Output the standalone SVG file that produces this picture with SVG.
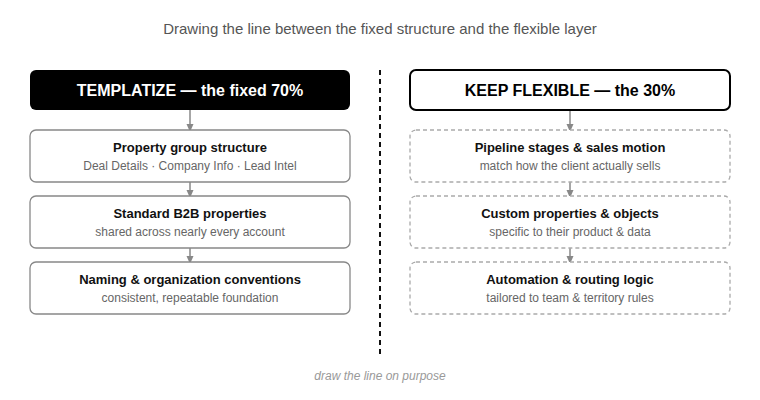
<svg xmlns="http://www.w3.org/2000/svg" width="760" height="400" viewBox="0 0 760 400">
<style>
text{font-family:"Liberation Sans",Arial,sans-serif;text-anchor:middle}
.t{font-size:13px;font-weight:bold;fill:#111}
.s{font-size:12px;fill:#666}
.h{font-size:16px;font-weight:bold}
.box{fill:#fff;stroke:#888;stroke-width:1.3}
.dbox{fill:#fff;stroke:#aaa;stroke-width:1.3;stroke-dasharray:4 3}
.c{stroke:#888;stroke-width:1.5;fill:none}
</style>
<defs><marker id="a" markerWidth="8" markerHeight="8" refX="4" refY="4" orient="auto" markerUnits="userSpaceOnUse"><path d="M0,0.5 L8,4 L0,7.5 Z" fill="#888"/></marker></defs>
<rect width="760" height="400" fill="#fff"/>
<text x="380" y="34" style="font-size:15px;fill:#555">Drawing the line between the fixed structure and the flexible layer</text>
<g id="connectors">
<line class="c" x1="190" y1="110" x2="190" y2="128" marker-end="url(#a)"/>
<line class="c" x1="190" y1="182" x2="190" y2="194" marker-end="url(#a)"/>
<line class="c" x1="190" y1="248" x2="190" y2="260" marker-end="url(#a)"/>
<line class="c" x1="570" y1="110" x2="570" y2="128" marker-end="url(#a)"/>
<line class="c" x1="570" y1="182" x2="570" y2="194" marker-end="url(#a)"/>
<line class="c" x1="570" y1="248" x2="570" y2="260" marker-end="url(#a)"/>
<line x1="380" y1="70" x2="380" y2="358" stroke="#111" stroke-width="2" stroke-dasharray="5 4"/>
</g>
<g id="h-left"><rect x="30" y="70" width="320" height="40" rx="6" fill="#000"/><text class="h" x="190" y="96" fill="#fff">TEMPLATIZE — the fixed 70%</text></g>
<g id="l1"><rect class="box" x="30" y="130" width="320" height="52" rx="6"/><text class="t" x="190" y="152">Property group structure</text><text class="s" x="190" y="170">Deal Details · Company Info · Lead Intel</text></g>
<g id="l2"><rect class="box" x="30" y="196" width="320" height="52" rx="6"/><text class="t" x="190" y="218">Standard B2B properties</text><text class="s" x="190" y="236">shared across nearly every account</text></g>
<g id="l3"><rect class="box" x="30" y="262" width="320" height="52" rx="6"/><text class="t" x="190" y="284">Naming &amp; organization conventions</text><text class="s" x="190" y="302">consistent, repeatable foundation</text></g>
<g id="h-right"><rect x="410" y="70" width="320" height="40" rx="6" fill="#fff" stroke="#000" stroke-width="2"/><text class="h" x="570" y="96" fill="#000">KEEP FLEXIBLE — the 30%</text></g>
<g id="r1"><rect class="dbox" x="410" y="130" width="320" height="52" rx="6"/><text class="t" x="570" y="152">Pipeline stages &amp; sales motion</text><text class="s" x="570" y="170">match how the client actually sells</text></g>
<g id="r2"><rect class="dbox" x="410" y="196" width="320" height="52" rx="6"/><text class="t" x="570" y="218">Custom properties &amp; objects</text><text class="s" x="570" y="236">specific to their product &amp; data</text></g>
<g id="r3"><rect class="dbox" x="410" y="262" width="320" height="52" rx="6"/><text class="t" x="570" y="284">Automation &amp; routing logic</text><text class="s" x="570" y="302">tailored to team &amp; territory rules</text></g>
<text x="380" y="380" style="font-size:12px;font-style:italic;fill:#999">draw the line on purpose</text>
</svg>
